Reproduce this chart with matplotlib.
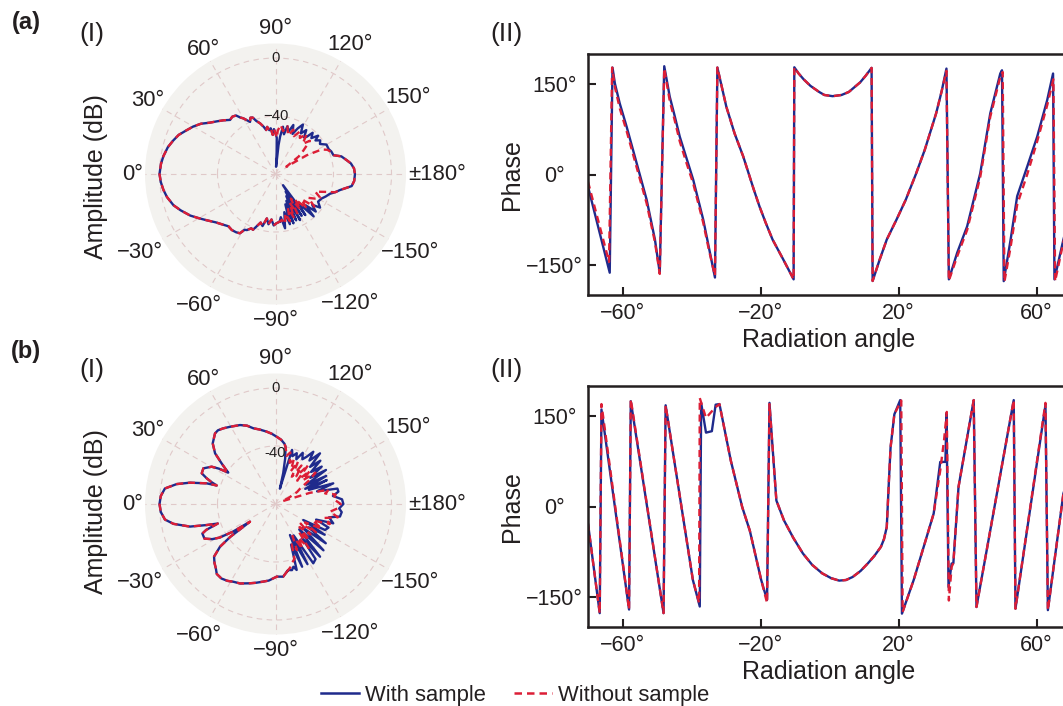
import numpy as np
import matplotlib
matplotlib.use('Agg')
import matplotlib.pyplot as plt
from matplotlib.lines import Line2D

plt.rcParams['font.family'] = ['Liberation Sans', 'DejaVu Sans']

BLUE = '#1f2a8c'
RED = '#dc1e36'
TXT = '#231f20'

# ---------------- data: amplitude patterns (deg, dB) ----------------
# panel (a) – front region shared by both measurements
a_front_deg = [-95, -91, -88, -85, -82, -79, -76, -73, -70, -68, -66, -63, -61, -59, -56, -52, -48, -44, -39, -34,
               -30, -26, -21, -17, -12, -8, -4, 0, 5, 9, 14, 18, 22, 26, 30, 34, 38, 42, 46, 50,
               53, 56, 58, 60, 62, 64, 66, 68, 70, 73, 76, 78, 80, 82, 84, 86, 88, 90, 92]
a_front_db = [-47, -46, -44.5, -48.5, -45, -48.8, -43, -45, -41.4, -38.5, -39, -36.6, -36, -32.3, -31.5, -31, -31.5, -29.7, -27, -22.9,
              -19, -14.6, -10, -6.4, -3.5, -1.9, -0.7, 0, -0.7, -1.7, -3.5, -5.7, -8, -11.5, -14.5, -18, -22.5, -25.7, -28.5, -31.3,
              -30.5, -31.3, -34, -35.7, -38, -40, -37.5, -38, -41, -43.4, -46.5, -49, -47, -49.5, -48.3, -53, -49, -52, -55]
# rear region (angles beyond 180 continue to -180 ... -95)
a_back_with_deg = [93, 94.5, 96, 97, 99, 102, 104, 107, 110, 113, 116, 119, 122, 125, 128, 130, 132, 135, 138, 140,
                   143, 146, 150, 155, 158, 162, 165, 169, 172, 176, 180, 185, 189, 194, 197, 200, 204, 208, 213, 217,
                   220, 223, 226, 228, 232, 234, 236, 238, 240, 242, 244, 246, 248, 250, 252, 254, 257, 260, 263, 265]
a_back_with_db = [-65, -75, -60, -54, -47, -52, -46, -49.5, -44, -50, -45, -41, -47, -43, -48, -46.5, -41.7, -45, -40.5, -44,
                  -41.4, -43, -39.4, -39.5, -38.5, -38, -33, -30, -27.5, -25.7, -25.2, -25.5, -26.8, -34.2, -37, -40.1, -42, -44, -45, -41.5,
                  -47, -42, -50, -40.7, -55, -45, -70.7, -46, -66, -44, -63, -45, -60, -43.8, -58, -44, -53, -42, -50, -47]
a_back_without_deg = [93, 96, 100, 104, 108, 112, 116, 120, 124, 128, 132, 136, 140, 143, 146, 149, 152, 155, 158, 162,
                      165, 169, 172, 176, 180, 185, 189, 194, 197, 200, 204, 208, 212, 216, 220, 224, 228, 232, 235, 238,
                      241, 244, 247, 250, 253, 256, 259, 262, 265]
a_back_without_db = [-50, -46, -50, -46, -52, -47, -51, -46, -50, -45, -52, -47, -55, -60, -71, -55, -44, -40.5, -39, -38,
                     -33, -30, -27.5, -25.7, -25.2, -25.5, -26.8, -34.2, -37, -44, -50, -45, -48, -52, -45, -55, -48, -58, -50, -60,
                     -49, -58, -47, -55, -46, -52, -45, -48, -47]

# panel (b)
b_front_deg = [-100, -96, -91, -85, -81, -76, -72, -66, -61.5, -58, -54, -50, -47, -44, -40.6, -37.6, -36, -34.7, -33, -31,
               -29, -26, -22, -20.5, -18.7, -17, -14.8, -11, -8, -4, 0, 4, 8, 11.4, 14, 16.7, 17.5, 19, 20.5, 22.6,
               26.3, 30.3, 32, 33.6, 35, 37, 40, 44, 49.4, 52, 55.4, 59.5, 65.8, 70, 73.7, 78, 83, 87, 91, 95, 98.5]
b_front_db = [-33, -29.6, -29.9, -27, -25.8, -24, -22.5, -20, -19, -17.5, -16.5, -17, -19.6, -21.5, -24.2, -31.7, -41.4, -58.6, -45, -35,
              -30, -25.5, -25.6, -29, -38, -30.4, -19, -8.3, -3, -0.7, 0, -0.7, -3, -10.5, -19.2, -30.4, -37.5, -33, -29.3, -24.9,
              -24.5, -29, -34, -40.9, -38, -33.5, -25.6, -19.8, -15.9, -15.5, -16.6, -18.2, -20.3, -22.5, -25.6, -27.5, -29.7, -31.5, -33.6, -35.5, -38]
b_back_with_deg = [100, 102, 104, 106, 107, 109.5, 112.7, 115, 118, 121, 123.4, 125.9, 128, 131.3, 133, 136, 138, 141, 143, 146,
                   148, 151, 153, 155, 157, 160.3, 163, 166, 168.9, 172, 176, 180, 184, 187, 191, 194, 198.5, 201, 204, 207.7,
                   210, 212, 215, 218, 221, 224, 227, 229.8, 232, 234, 237.5, 240, 242, 245, 247, 249, 252.2, 254.1, 256, 259, 260]
b_back_with_db = [-40, -48, -58, -69, -41, -45, -42, -46, -40, -44, -41, -35.5, -42, -33.5, -45, -37, -47, -39, -50, -38,
                  -55, -40, -57, -41, -55, -37.7, -50, -36, -35.8, -40, -34, -33.2, -36, -34, -34.7, -42, -38, -50, -40, -41.4,
                  -57.9, -40, -52, -36, -55, -34, -56, -32.4, -50, -33, -31.5, -55, -33, -56.4, -33, -50, -32.2, -35, -33, -33.6, -33]
b_back_without_deg = [100, 103, 106, 109, 112, 115, 118, 121, 124, 127, 130, 133, 136, 139, 142, 145, 148, 151, 155, 158,
                      162, 165, 168, 171, 175, 180, 184, 188, 192, 196, 200, 204, 208, 212, 215, 218, 221, 224, 227, 230,
                      233, 236, 239, 242, 245, 248, 251, 254, 257, 260]
b_back_without_db = [-40, -46, -43, -50, -46, -55, -47, -58, -48, -56, -45, -58, -47, -55, -45, -52, -60, -63, -70, -75,
                     -55, -42, -45, -38, -40, -35, -37, -42, -36, -45, -40, -52, -44, -56, -46, -58, -48, -57, -46, -55,
                     -42, -52, -44, -55, -45, -50, -40, -38, -35, -33]

# ---------------- data: phase vs radiation angle ----------------
pa_with_x = [-70, -63.7, -62.9, -62.2, -60.8, -58.8, -55.9, -53.0, -50.6, -49.2,
             -47.9, -46.3, -45, -43.4, -41.5, -39.5, -36.6, -35, -33.2,
             -32.5, -31, -29.9, -27.5, -25.0, -22.0, -20.3, -18.5, -16.5, -13.5, -10.4,
             -10.2, -9, -7.5, -5.5, -3, -1.5, 0.9, 3.5, 5.6, 8.9, 10.5, 12.2,
             12.5, 14.5, 16.6, 19.5, 22.1, 25, 27.6, 30.9, 32.5, 33.9,
             34.6, 37.0, 39.9, 43.7, 46.6, 49.5, 50.0,
             50.5, 52.5, 54.4, 57.3, 60.2, 63.1, 64.8,
             65.2, 67.8, 70]
pa_with_y = [-20, -163, 177.5, 151, 118, 79.3, 18.8, -41.8, -108, -163,
             179.7, 129, 100, 62.8, 28, -8.8, -74.9, -120, -171,
             177.5, 140, 112.4, 68, 29.8, -24, -52.9, -80, -108, -140, -174,
             178, 168, 158, 147, 137, 132, 130, 132, 137, 153, 164, 177,
             -176.7, -142, -108, -74, -42, 0, 40.7, 101.3, 138, 175.8,
             -174, -130, -86, 2.3, 101.5, 167.6, 173,
             -177, -108, -36, 13, 62.8, 123.5, 167.6,
             -174, -108, -60]
pa_without_x = [-70, -63.9, -63.0, -62.2, -60.8, -58.8, -55.9, -53.0, -50.6, -49.2,
                -47.9, -46.3, -45, -43.4, -41.5, -39.5, -36.6, -35, -33.2,
                -32.5, -31, -29.9, -27.5, -25.0, -22.0, -20.3, -18.5, -16.5, -13.5, -10.4,
                -10.2, -9, -7.5, -5.5, -3, -1.5, 0.9, 3.5, 5.6, 8.9, 10.5, 12.2,
                12.5, 14.5, 16.6, 19.5, 22.1, 25, 27.6, 30.9, 32.5, 33.9,
                34.6, 37.0, 39.9, 43.7, 46.6, 49.5, 50.2,
                50.7, 52.5, 54.4, 57.3, 60.2, 63.1, 64.9,
                65.4, 67.8, 70]
pa_without_y = [-12, -145, 177.5, 145, 110, 72, 12, -48, -112, -165,
                176, 122, 93, 55, 20, -15, -80, -124, -168,
                177.5, 140, 112.4, 68, 29.8, -24, -52.9, -80, -108, -140, -174,
                178, 168, 158, 147, 137, 132, 130, 132, 137, 153, 164, 177,
                -176.7, -142, -108, -74, -42, 0, 40.7, 101.3, 138, 172,
                -176, -136, -92, -4, 96, 162, 170,
                -178, -120, -50, 0, 55, 115, 158,
                -177, -112, -62]

pb_with_x = [-70, -66.6, -66.1, -58.1, -57.6, -48.1, -47.5, -39.6, -37.6,
             -37.2, -35.8, -34.1, -33, -31.9, -31.3, -28.6, -25.3, -23.1, -19.8, -18.1,
             -17.4, -16.5, -15.4, -13.2, -10.5, -7.7, -5, -2.1, 0.5, 2.8, 4.8, 6.7, 9, 11.1, 13, 14.9, 15.8, 16.6, 17.2, 17.7, 18.8, 20.5,
             21.0, 24.4, 27.3, 30.2, 32.1, 33.6, 33.9,
             34.5, 35.4, 35.9, 37.4, 41.8,
             42.6, 53.4, 53.9, 62.6, 63.3, 67.8, 70]
pb_with_y = [-28.6, -177, 161, -171, 174.7, -177, 168, -122, -166,
             172, 122.6, 125, 169, 170, 153, 76, -1, -40, -122, -155,
             172, 98, 10, -23, -52, -78, -97, -111, -119, -123, -122, -117, -107, -94.5, -82, -67, -54, -34, 40, 98, 153, 176.6,
             -177.8, -122, -67, -11.6, 74, 74, 154.5,
             -133.6, -94.7, -94, 32.6, 176.6,
             -166.8, 176.6, -169.6, 168.3, -172, 21.6, 60]
pb_without_x = [-70, -66.6, -66.1, -58.1, -57.6, -48.1, -47.5, -39.6, -37.8,
                -37.6, -35.8, -34.1, -33, -31.9, -31.3, -28.6, -25.3, -23.1, -19.8, -18.1,
                -17.4, -16.5, -15.4, -13.2, -10.5, -7.7, -5, -2.1, 0.5, 2.8, 4.8, 6.7, 9, 11.1, 13, 14.9, 15.8, 16.6, 17.2, 17.7, 18.8, 20.8,
                21.2, 24.4, 27.3, 30.2, 32.1, 33.2, 34.0,
                34.6, 35.4, 35.9, 37.4, 41.8,
                42.6, 53.4, 53.9, 62.6, 63.3, 67.8, 70]
pb_without_y = [-28.6, -177, 170, -171, 178, -177, 168, -122, -160,
                180, 147, 158, 165, 170, 153, 76, -1, -40, -122, -160,
                170, 98, 10, -23, -52, -78, -97, -111, -119, -123, -122, -117, -107, -94.5, -82, -67, -54, -34, 40, 98, 153, 176,
                -175, -122, -67, -11.6, 60, 110, 157,
                -156, -100, -94, 32.6, 176.6,
                -166.8, 176.6, -169.6, 172, -172, 21.6, 60]

theta_ticks = [0, 30, 60, 90, 120, 150, 180, -150, -120, -90, -60, -30]
theta_ticklabels = ['0°', '30°', '60°', '90°', '120°', '150°', '±180°', '−150°', '−120°', '−90°', '−60°', '−30°']
r_rings = [-40, 0]
phase_xticks = [-60, -20, 20, 60]
phase_xticklabels = ['−60°', '−20°', '20°', '60°']
phase_yticks = [-150, 0, 150]
phase_yticklabels = ['−150°', '0°', '150°']

# ---------------- figure ----------------
W, H = 1063, 706
fig = plt.figure(figsize=(W / 100, H / 100), dpi=100)


def fx(px):
    return px / W


def fy(py):
    return 1 - py / H


# label distance (px from centre) for each theta label
label_r = {0: 143, 30: 148, 60: 144, 90: 146, 120: 150, 150: 153.5, 180: 162,
           -150: 156, -120: 150, -90: 146, -60: 152, -30: 156}


def polar_panel(cy, front_deg, front_db, wdeg, wdb, odeg, odb, m40_text, m40_r):
    R = 130.5
    cx = 275.5
    ax = fig.add_axes([fx(cx - R), fy(cy + R), 2 * R / W, 2 * R / H], projection='polar')
    ax.set_theta_zero_location('W')
    ax.set_theta_direction(-1)
    ax.set_facecolor('#f3f2ef')
    ax.set_rlim(-80, 10)
    ax.set_yticks(r_rings)
    ax.set_yticklabels([])
    ax.set_xticks(np.deg2rad(np.arange(0, 360, 30)))
    ax.set_xticklabels([])
    ax.grid(True, color='#e0c9c9', linestyle=(0, (5, 4)), linewidth=0.8)
    ax.spines['polar'].set_visible(False)
    ax.tick_params(length=0)

    th_w = np.deg2rad(np.concatenate([front_deg, wdeg]))
    r_w = np.concatenate([front_db, wdb])
    th_o = np.deg2rad(np.concatenate([front_deg, odeg]))
    r_o = np.concatenate([front_db, odb])
    ax.plot(th_w, r_w, color=BLUE, lw=1.7, solid_joinstyle='round')
    ax.plot(th_o, r_o, color=RED, lw=1.7, dashes=(3, 2))

    for t, lab in zip(theta_ticks, theta_ticklabels):
        phi = np.deg2rad(180 - t)
        rr = label_r[t] / (2 * R)
        ax.text(0.5 + rr * np.cos(phi), 0.5 + rr * np.sin(phi), lab, transform=ax.transAxes,
                ha='center', va='center', fontsize=15.8, color=TXT, clip_on=False)
    ax.text(np.deg2rad(90), 0, '0', ha='center', va='center', fontsize=10.7, color=TXT)
    ax.text(np.deg2rad(90), m40_r, m40_text, ha='center', va='center', fontsize=10.7, color=TXT)
    return ax


def phase_panel(top, xw, yw, xo, yo):
    left, right, height = 588, 1071, 241
    ax = fig.add_axes([fx(left), fy(top + height), (right - left) / W, height / H])
    ax.plot(xw, yw, color=BLUE, lw=1.7)
    ax.plot(xo, yo, color=RED, lw=1.7, dashes=(3, 2))
    ax.set_xlim(-70, 70)
    ax.set_ylim(-200, 200)
    ax.set_xticks(phase_xticks)
    ax.set_xticklabels(phase_xticklabels)
    ax.set_yticks(phase_yticks)
    ax.set_yticklabels(phase_yticklabels)
    ax.tick_params(direction='in', length=6, width=1.5, labelsize=15.5, colors=TXT)
    ax.tick_params(axis='x', pad=6)
    ax.tick_params(axis='y', pad=24)
    for lab in ax.get_yticklabels():
        lab.set_ha('center')
    for sp in ax.spines.values():
        sp.set_linewidth(1.8)
        sp.set_color(TXT)
    return ax


polar_panel(174, a_front_deg, a_front_db, a_back_with_deg, a_back_with_db,
            a_back_without_deg, a_back_without_db, '−40', -40)
polar_panel(504, b_front_deg, b_front_db, b_back_with_deg, b_back_with_db,
            b_back_without_deg, b_back_without_db, '-40', -45)
phase_panel(54, pa_with_x, pa_with_y, pa_without_x, pa_without_y)
phase_panel(386, pb_with_x, pb_with_y, pb_without_x, pb_without_y)

# labels
for cy_lab, tag, yI in [(22.5, '(a)', 34.5), (352, '(b)', 370)]:
    fig.text(fx(26), fy(cy_lab), tag, ha='center', va='center', fontsize=17, fontweight='bold', color=TXT)
    fig.text(fx(91.5), fy(yI), '(I)', ha='center', va='center', fontsize=19, color=TXT)
    fig.text(fx(506), fy(yI), '(II)', ha='center', va='center', fontsize=19, color=TXT)

for cy_amp in [176.5, 511.5]:
    fig.text(fx(96), fy(cy_amp), 'Amplitude (dB)', rotation=90, ha='center', va='center', fontsize=18, color=TXT)
for cy_ph, cy_rad in [(174.5, 340), (506.5, 672)]:
    fig.text(fx(512), fy(cy_ph), 'Phase', rotation=90, ha='center', va='center', fontsize=18, color=TXT)
    fig.text(fx(829), fy(cy_rad), 'Radiation angle', ha='center', va='center', fontsize=18, color=TXT)

handles = [Line2D([], [], color=BLUE, lw=1.8),
           Line2D([], [], color=RED, lw=1.8, dashes=(3, 2))]
fig.legend(handles, ['With sample', 'Without sample'], loc='center', bbox_to_anchor=(fx(515), fy(695)),
           ncol=2, frameon=False, fontsize=15.8, handlelength=1.75, handletextpad=0.25,
           columnspacing=1.3, labelcolor=TXT)

fig.savefig('out.png', dpi=100)
